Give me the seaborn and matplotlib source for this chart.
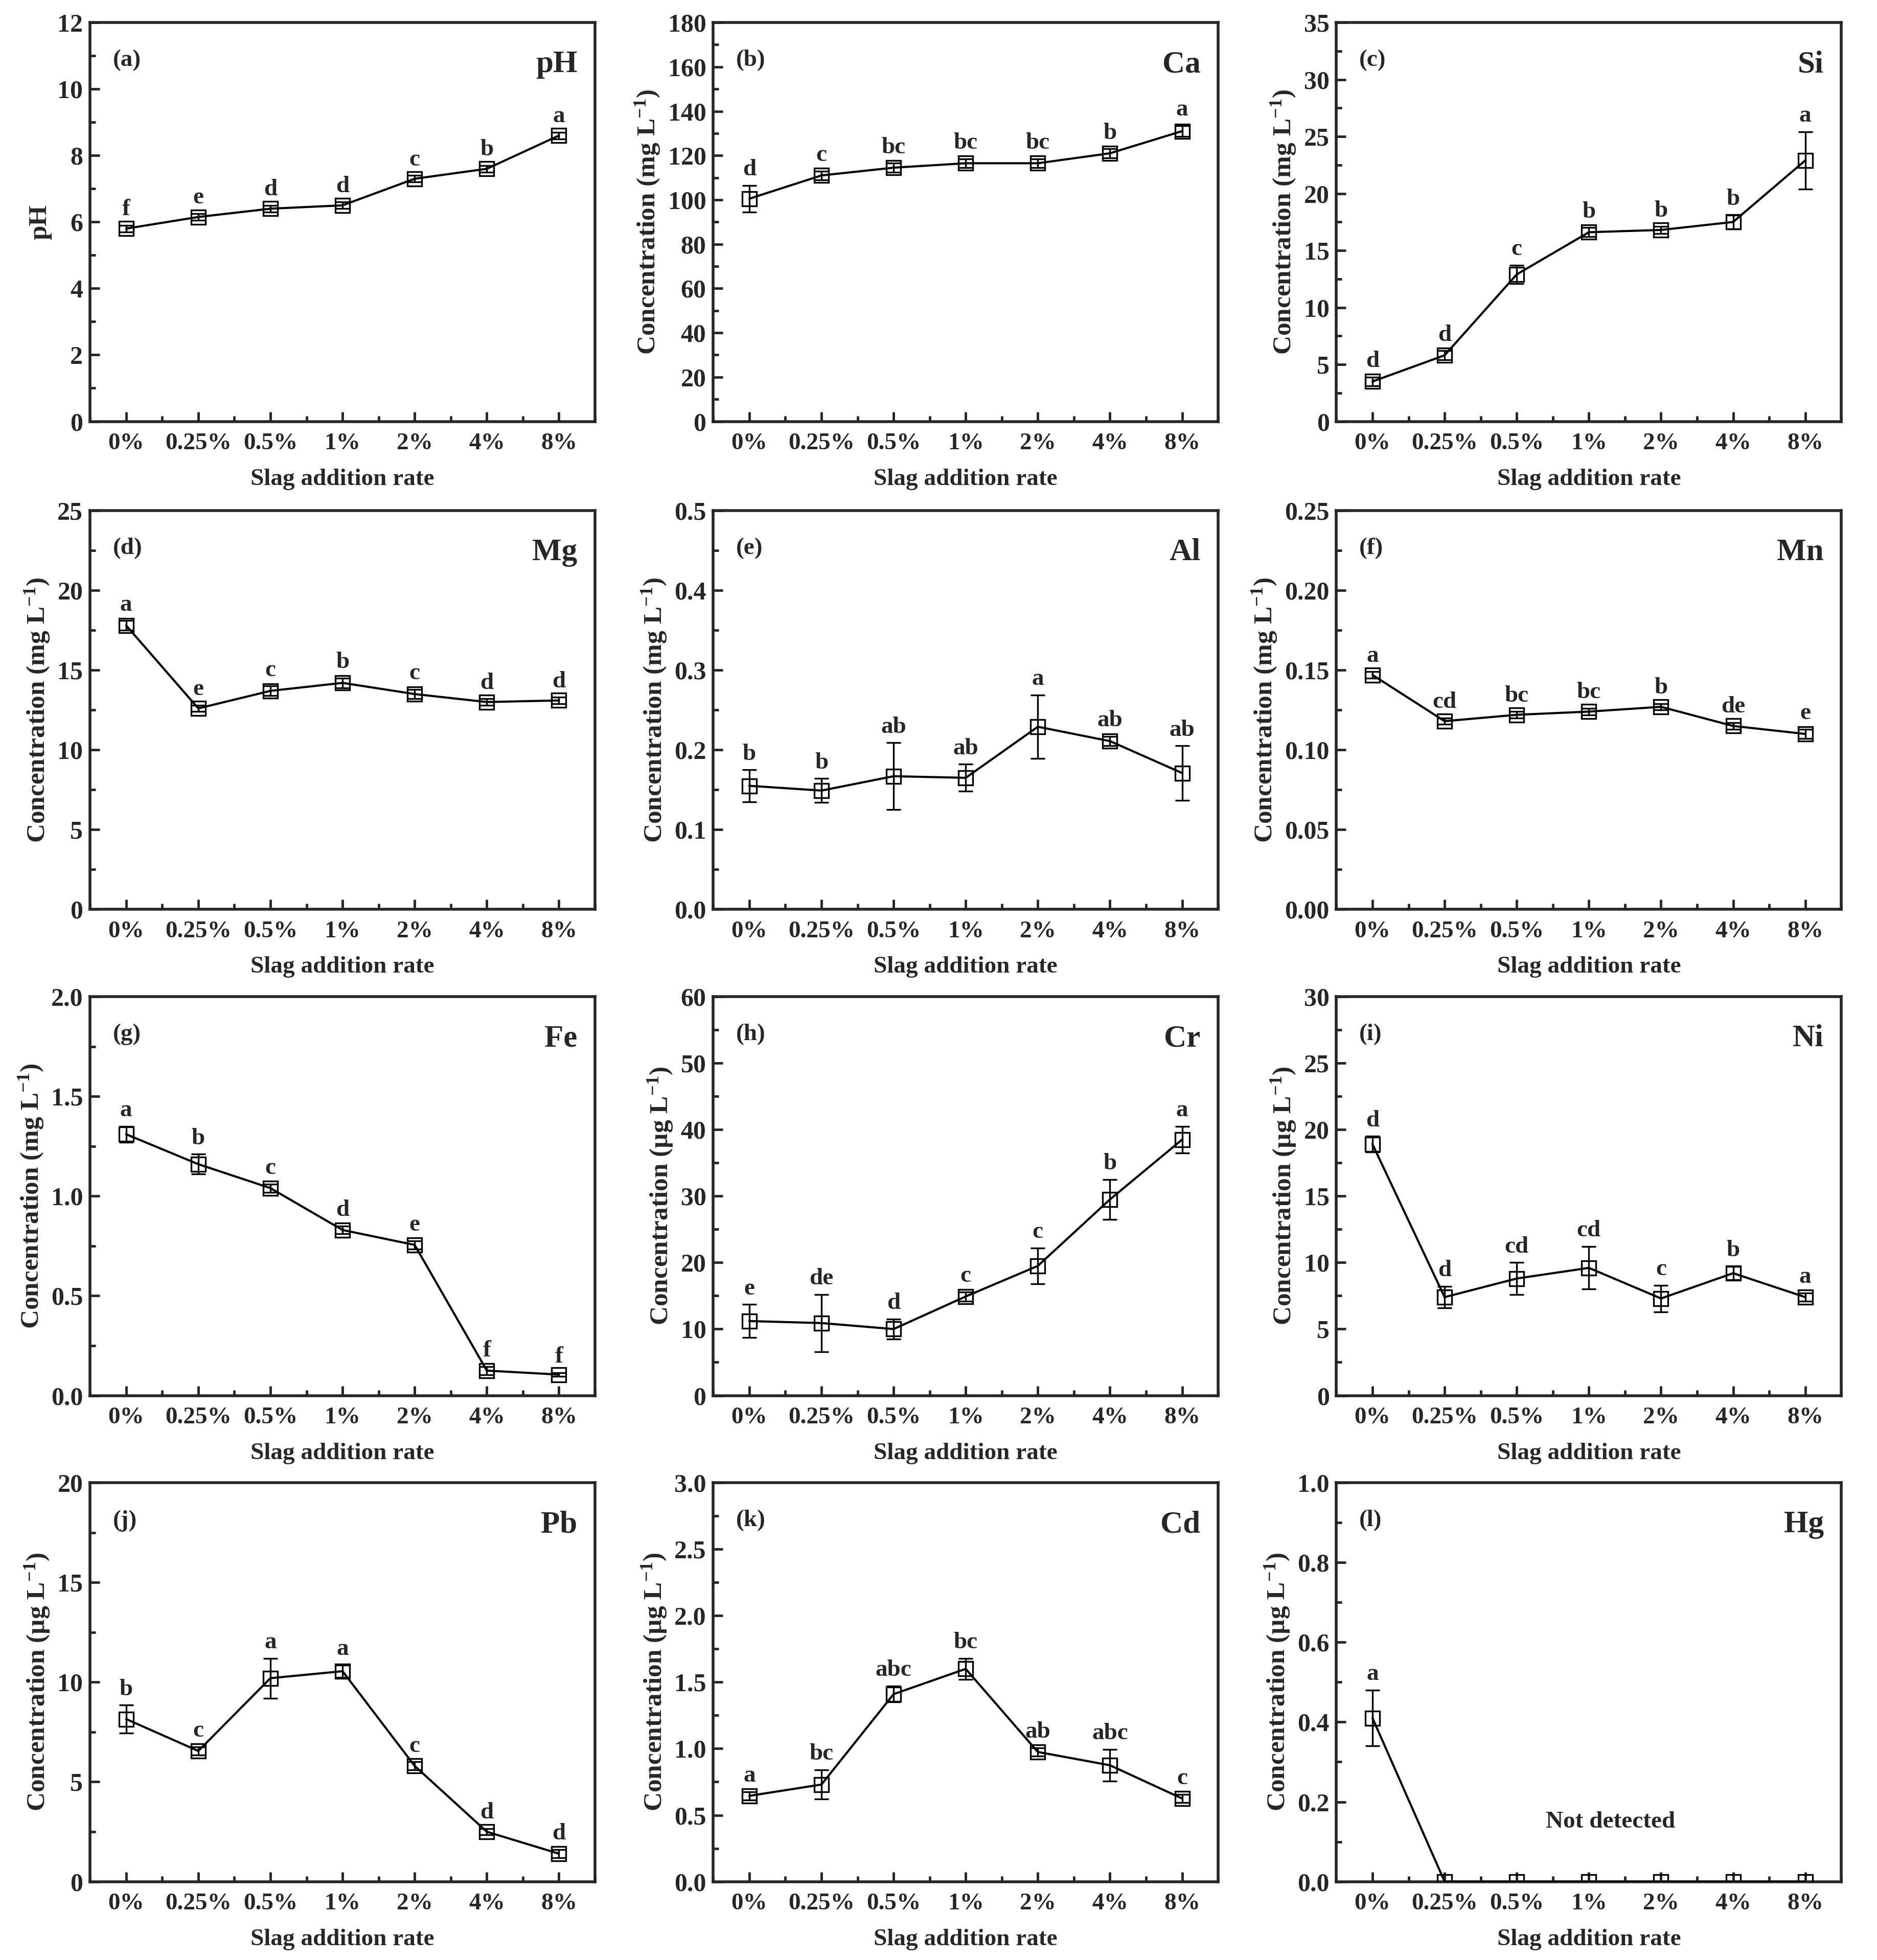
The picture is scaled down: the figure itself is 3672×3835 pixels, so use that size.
import seaborn as sns
import matplotlib.pyplot as plt
import numpy as np

# Slag addition rates (x categories)
rates = ["0%", "0.25%", "0.5%", "1%", "2%", "4%", "8%"]

# values: mean, error, significance letters
ph_mean = [5.8, 6.15, 6.4, 6.5, 7.3, 7.6, 8.6]
ph_err = [0.1, 0.1, 0.1, 0.1, 0.1, 0.1, 0.1]
ph_sig = ["f", "e", "d", "d", "c", "b", "a"]

ca_mean = [100.5, 111.0, 114.5, 116.5, 116.5, 121.0, 131.0]
ca_err = [6.0, 2.0, 2.0, 2.0, 2.0, 2.0, 2.5]
ca_sig = ["d", "c", "bc", "bc", "bc", "b", "a"]

si_mean = [3.5, 5.8, 12.9, 16.6, 16.8, 17.5, 22.9]
si_err = [0.4, 0.4, 0.8, 0.4, 0.3, 0.6, 2.5]
si_sig = ["d", "d", "c", "b", "b", "b", "a"]

mg_mean = [17.8, 12.6, 13.7, 14.2, 13.5, 13.0, 13.1]
mg_err = [0.3, 0.2, 0.3, 0.3, 0.3, 0.2, 0.2]
mg_sig = ["a", "e", "c", "b", "c", "d", "d"]

al_mean = [0.155, 0.149, 0.167, 0.165, 0.229, 0.211, 0.171]
al_err = [0.02, 0.015, 0.042, 0.017, 0.04, 0.006, 0.034]
al_sig = ["b", "b", "ab", "ab", "a", "ab", "ab"]

mn_mean = [0.147, 0.118, 0.122, 0.124, 0.127, 0.115, 0.110]
mn_err = [0.002, 0.002, 0.002, 0.002, 0.002, 0.002, 0.003]
mn_sig = ["a", "cd", "bc", "bc", "b", "de", "e"]

fe_mean = [1.31, 1.16, 1.04, 0.83, 0.755, 0.125, 0.105]
fe_err = [0.04, 0.05, 0.02, 0.02, 0.02, 0.02, 0.01]
fe_sig = ["a", "b", "c", "d", "e", "f", "f"]

cr_mean = [11.2, 10.9, 10.0, 14.9, 19.5, 29.5, 38.5]
cr_err = [2.5, 4.3, 1.5, 0.7, 2.7, 3.0, 2.0]
cr_sig = ["e", "de", "d", "c", "c", "b", "a"]

ni_mean = [18.9, 7.4, 8.8, 9.6, 7.3, 9.2, 7.4]
ni_err = [0.6, 0.8, 1.2, 1.6, 1.0, 0.5, 0.3]
ni_sig = ["d", "d", "cd", "cd", "c", "b", "a"]

pb_mean = [8.15, 6.55, 10.2, 10.55, 5.8, 2.5, 1.4]
pb_err = [0.7, 0.2, 1.0, 0.3, 0.2, 0.15, 0.2]
pb_sig = ["b", "c", "a", "a", "c", "d", "d"]

cd_mean = [0.645, 0.73, 1.41, 1.60, 0.975, 0.875, 0.625]
cd_err = [0.03, 0.11, 0.06, 0.08, 0.03, 0.12, 0.03]
cd_sig = ["a", "bc", "abc", "bc", "ab", "abc", "c"]

hg_mean = [0.41, 0.0, 0.0, 0.0, 0.0, 0.0, 0.0]
hg_err = [0.07, 0.0, 0.0, 0.0, 0.0, 0.0, 0.0]
hg_sig = ["a", "", "", "", "", "", ""]

mg_unit = "Concentration (mg L$^{-1}$)"
ug_unit = "Concentration (\u00b5g L$^{-1}$)"

# (tag, name, ylabel, mean, err, sig, ymax, ystep, decimals)
panels = [
    ("(a)", "pH", "pH", ph_mean, ph_err, ph_sig, 12, 2, 0),
    ("(b)", "Ca", mg_unit, ca_mean, ca_err, ca_sig, 180, 20, 0),
    ("(c)", "Si", mg_unit, si_mean, si_err, si_sig, 35, 5, 0),
    ("(d)", "Mg", mg_unit, mg_mean, mg_err, mg_sig, 25, 5, 0),
    ("(e)", "Al", mg_unit, al_mean, al_err, al_sig, 0.5, 0.1, 1),
    ("(f)", "Mn", mg_unit, mn_mean, mn_err, mn_sig, 0.25, 0.05, 2),
    ("(g)", "Fe", mg_unit, fe_mean, fe_err, fe_sig, 2.0, 0.5, 1),
    ("(h)", "Cr", ug_unit, cr_mean, cr_err, cr_sig, 60, 10, 0),
    ("(i)", "Ni", ug_unit, ni_mean, ni_err, ni_sig, 30, 5, 0),
    ("(j)", "Pb", ug_unit, pb_mean, pb_err, pb_sig, 20, 5, 0),
    ("(k)", "Cd", ug_unit, cd_mean, cd_err, cd_sig, 3.0, 0.5, 1),
    ("(l)", "Hg", ug_unit, hg_mean, hg_err, hg_sig, 1.0, 0.2, 1),
]

sns.set_style("ticks")
plt.rcParams["font.family"] = ["Liberation Serif", "DejaVu Serif"]
plt.rcParams["font.weight"] = "bold"
plt.rcParams["mathtext.fontset"] = "custom"
plt.rcParams["mathtext.rm"] = "Liberation Serif:bold"
plt.rcParams["mathtext.bf"] = "Liberation Serif:bold"
plt.rcParams["mathtext.default"] = "rm"

fig = plt.figure(figsize=(36.72, 38.35), dpi=100)

lefts = [0.048, 0.380, 0.712]
bottoms = [0.785, 0.536, 0.288, 0.040]
w, h = 0.269, 0.2035

x = np.arange(len(rates))

for i, (tag, name, ylab, mean, err, sig, ymax, ystep, dec) in enumerate(panels):
    ax = fig.add_axes([lefts[i % 3], bottoms[i // 3], w, h])
    ax.errorbar(x, mean, yerr=err, fmt="none", ecolor="black",
                elinewidth=2.4, capsize=10, capthick=2.4, zorder=2)
    sns.lineplot(x=x, y=mean, ax=ax, color="black", linewidth=3.0,
                 marker="s", markersize=20, markerfacecolor="none",
                 markeredgecolor="black", markeredgewidth=2.4, zorder=3)

    for xi, m, e, s in zip(x, mean, err, sig):
        if s:
            ax.annotate(s, (xi, m + e), xytext=(0, 7), textcoords="offset points",
                        ha="center", va="bottom", fontsize=34, fontweight="bold")

    ax.set_xlim(-0.5, 6.5)
    ax.set_ylim(0, ymax)
    ax.set_xticks(x)
    ax.set_xticklabels(rates)
    ax.set_xticks(np.arange(-0.5, 6.6, 1.0), minor=True)
    yt = np.arange(0, ymax + ystep / 2, ystep)
    ax.set_yticks(yt)
    ax.set_yticklabels([f"{v:.{dec}f}" for v in yt])
    ax.set_yticks(np.arange(ystep / 2, ymax, ystep), minor=True)

    ax.tick_params(axis="x", which="major", direction="in", length=14, width=3.5,
                   labelsize=34, pad=16)
    ax.tick_params(axis="y", which="major", direction="in", length=14, width=3.5,
                   labelsize=36, pad=10)
    ax.tick_params(axis="both", which="minor", direction="in", length=8, width=3.5)
    for sp in ax.spines.values():
        sp.set_linewidth(4)

    ax.set_xlabel("Slag addition rate", fontsize=34, fontweight="bold", labelpad=20)
    ax.set_ylabel(ylab, fontsize=37, fontweight="bold", labelpad=8)

    ax.text(0.045, 0.905, tag, transform=ax.transAxes, fontsize=34,
            fontweight="bold", ha="left", va="center")
    ax.text(0.965, 0.895, name, transform=ax.transAxes, fontsize=44,
            fontweight="bold", ha="right", va="center")

    if name == "Hg":
        ax.text(3.3, 0.15, "Not detected", fontsize=34, fontweight="bold",
                ha="center", va="center")

fig.savefig("out.png", dpi=100)
